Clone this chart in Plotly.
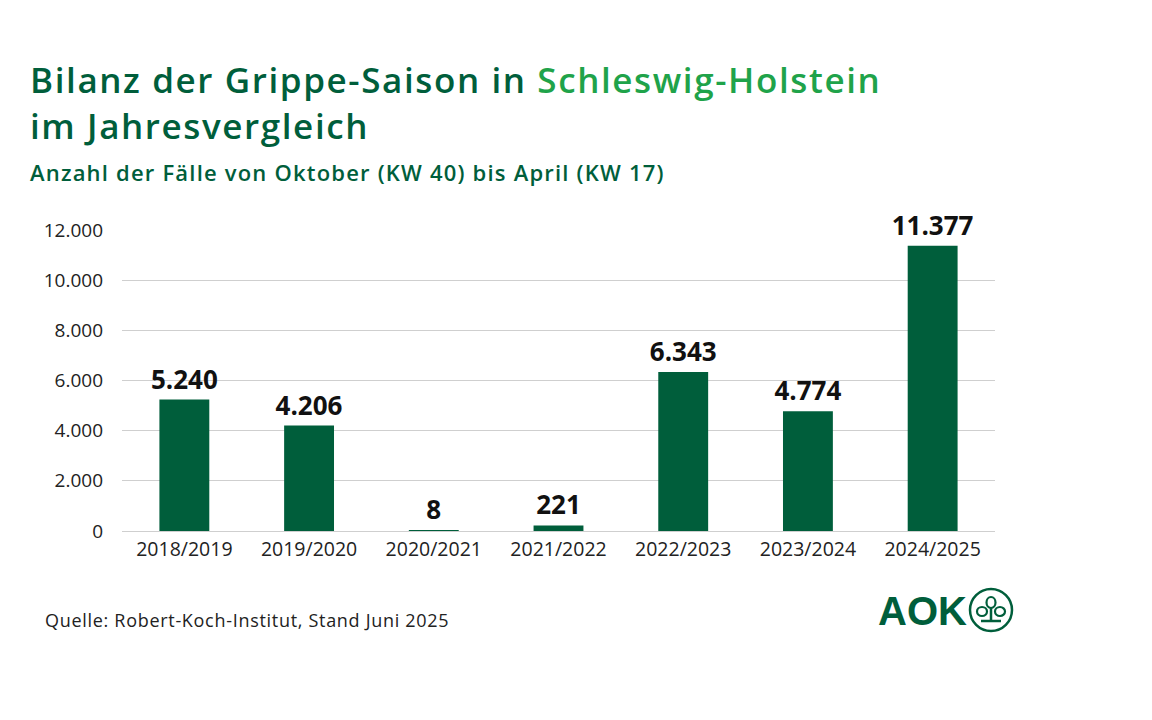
import plotly.graph_objects as go

seasons = ["2018/2019", "2019/2020", "2020/2021", "2021/2022", "2022/2023", "2023/2024", "2024/2025"]
cases = [5240, 4206, 8, 221, 6343, 4774, 11377]
y_ticks = [0, 2000, 4000, 6000, 8000, 10000, 12000]
y_tick_labels = ["0", "2.000", "4.000", "6.000", "8.000", "10.000", "12.000"]

DARK = "#005e3b"
LIGHT = "#1fa34a"
OFF = 8  # page body margin
W, H = 1152 - OFF, 720 - OFF
L, R, T, B = 122 - OFF, 995 - OFF, 230 - OFF, 531 - OFF
FONT = "Open Sans"

def px(x):
    return (x - OFF - L) / (R - L)

def py(y):
    return (B - (y - OFF)) / (B - T)

fig = go.Figure(go.Bar(
    x=seasons, y=cases,
    marker=dict(color=DARK, line=dict(width=0)),
    texttemplate="%{y:,}", textposition="outside", cliponaxis=False,
    constraintext="none",
    textfont=dict(family=FONT, size=26, color="#111111", weight="bold"),
    width=0.4,
))

fig.update_layout(
    width=W, height=H,
    margin=dict(l=L, r=W - R, t=T, b=H - B, pad=0),
    paper_bgcolor="white", plot_bgcolor="white",
    separators=",.",
    showlegend=False,
    font=dict(family=FONT, color="#222222"),
    xaxis=dict(showgrid=False, showline=False, ticks="",
               tickfont=dict(size=19.5, color="#222222"), ticklabelstandoff=4),
    yaxis=dict(range=[0, 12000], tickvals=y_ticks, ticktext=y_tick_labels,
               showgrid=True, gridcolor="#cfcfcf", gridwidth=1,
               zeroline=True, zerolinecolor="#cfcfcf", zerolinewidth=1,
               showline=False, ticks="", ticklabelstandoff=18,
               tickfont=dict(size=19, color="#222222")),
)

LS_T = "letter-spacing:1.6px;"
fig.add_annotation(
    xref="paper", yref="paper", x=px(28), y=py(54), xanchor="left", yanchor="top",
    text=f"<span style='color:{DARK};{LS_T}'>Bilanz der Grippe-Saison in </span>"
         f"<span style='color:{LIGHT};{LS_T}'>Schleswig-Holstein</span><br>"
         f"<span style='color:{DARK};{LS_T}'>im Jahresvergleich</span>",
    align="left", showarrow=False,
    font=dict(family=FONT, size=35, color=DARK, weight=600),
)
fig.add_annotation(
    xref="paper", yref="paper", x=px(28), y=py(155), xanchor="left", yanchor="top",
    text=f"<span style='color:{DARK};letter-spacing:1.2px;'>Anzahl der Fälle von Oktober (KW 40) bis April (KW 17)</span>",
    align="left", showarrow=False,
    font=dict(family=FONT, size=22, color=DARK, weight=600),
)
fig.add_annotation(
    xref="paper", yref="paper", x=px(43), y=py(620), xanchor="left", yanchor="middle",
    text="<span style='color:#222222;letter-spacing:0.7px;'>Quelle: Robert-Koch-Institut, Stand Juni 2025</span>",
    showarrow=False, font=dict(family=FONT, size=18, color="#222222"),
)

# AOK logo
fig.add_annotation(
    xref="paper", yref="paper", x=px(922), y=py(611), xanchor="center", yanchor="middle",
    text="AOK", showarrow=False,
    font=dict(family="Liberation Sans", size=40, color=DARK, weight="bold"),
)
cx, cy, rr = 991, 610, 21
fig.add_shape(type="circle", xref="paper", yref="paper",
              x0=px(cx - rr), x1=px(cx + rr), y0=py(cy + rr), y1=py(cy - rr),
              line=dict(color=DARK, width=2.5), fillcolor="rgba(0,0,0,0)")
fig.add_shape(type="line", xref="paper", yref="paper",
              x0=px(cx), x1=px(cx), y0=py(cy - 2), y1=py(cy + 10),
              line=dict(color=DARK, width=2.5))
fig.add_shape(type="line", xref="paper", yref="paper",
              x0=px(cx - 10), x1=px(cx + 10), y0=py(cy + 11), y1=py(cy + 11),
              line=dict(color=DARK, width=2.5))
fig.add_shape(type="circle", xref="paper", yref="paper",
              x0=px(cx - 4.5), x1=px(cx + 4.5), y0=py(cy - 2), y1=py(cy - 13),
              line=dict(color=DARK, width=2.2))
fig.add_shape(type="circle", xref="paper", yref="paper",
              x0=px(cx - 14), x1=px(cx - 4), y0=py(cy + 6), y1=py(cy - 3),
              line=dict(color=DARK, width=2.2))
fig.add_shape(type="circle", xref="paper", yref="paper",
              x0=px(cx + 4), x1=px(cx + 14), y0=py(cy + 6), y1=py(cy - 3),
              line=dict(color=DARK, width=2.2))

fig.write_html("out.html")
